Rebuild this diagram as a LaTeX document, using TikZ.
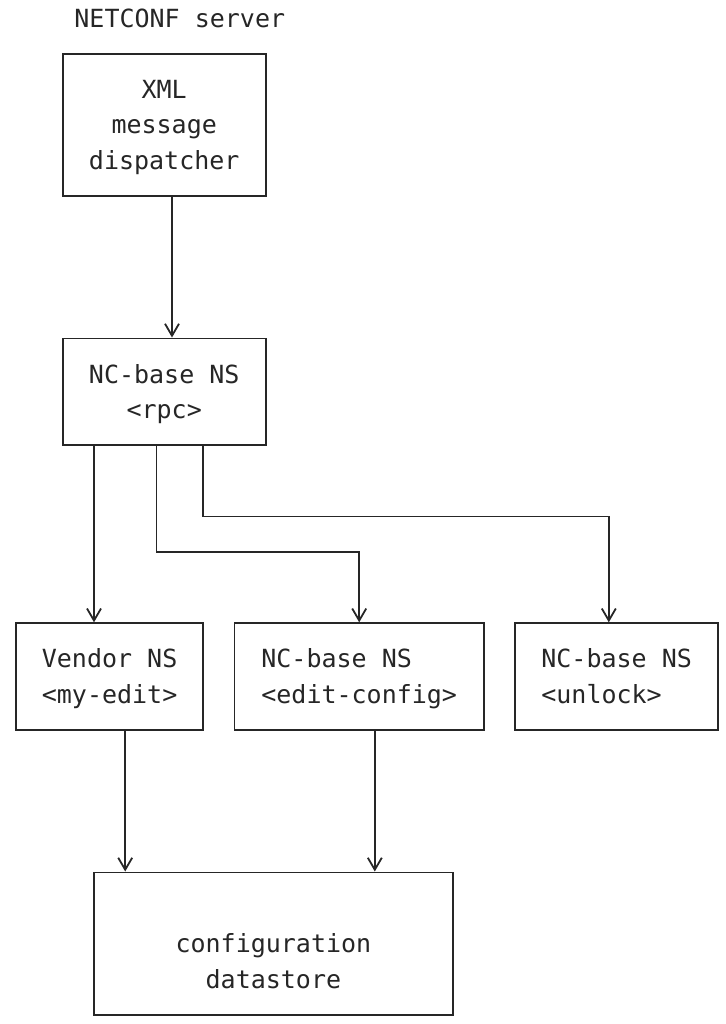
\documentclass[tikz,border=0pt]{standalone}
\usepackage{fontspec}
\usepackage{xcolor}
\usepackage{tikz}
\usetikzlibrary{arrows.meta}
\setmonofont{DejaVu Sans Mono}
\definecolor{ink}{HTML}{262626}
\newcommand{\asciifont}{\ttfamily\fontsize{25}{35.6}\selectfont}
\newcommand{\rs}{\rule[-8.7pt]{0pt}{35.6pt}}

\begin{document}
\begin{tikzpicture}[x=15.6pt,y=-35.6pt,
	blk/.style={draw=ink,line width=1.8pt,text=ink,font=\asciifont,inner sep=0pt,align=center},
	lbl/.style={text=ink,font=\asciifont,inner sep=0pt},
	arr/.style={draw=ink,line width=1.8pt,-{Straight Barb[length=12pt,width=14pt]}}]
	\useasboundingbox (-1.026,-0.506) rectangle (45.449,28.258);
	% boxes, on the character grid of the figure
	\node[lbl] (title) at (10.5,0) {NETCONF server};
	\node[blk,minimum width=202.8pt,minimum height=142.4pt] (dispatcher) at (9.5,3) {\rs XML\\message\\dispatcher\rs};
	\node[blk,minimum width=202.8pt,minimum height=106.8pt] (rpc) at (9.5,10.5) {\rs NC-base NS\\<rpc>\rs};
	\node[blk,minimum width=187.2pt,minimum height=106.8pt] (vendor) at (6,18.5) {\rs Vendor NS\\<my-edit>\rs};
	\node[blk,align=left,minimum width=249.6pt,minimum height=106.8pt] (edit) at (22,18.5) {\rs NC-base NS\\<edit-config>\rs};
	\node[blk,align=left,minimum width=202.8pt,minimum height=106.8pt] (unlock) at (38.5,18.5) {\rs NC-base NS\\<unlock>\rs};
	\node[blk,minimum width=358.8pt,minimum height=142.4pt] (store) at (16.5,26) {\rs\\configuration\\datastore\rs};
	% columns and bends of the connectors
	\coordinate (dispcol) at (10,0);
	\coordinate (vendorcol) at (5,0);
	\coordinate (editcol) at (9,0);
	\coordinate (unlockcol) at (12,0);
	\coordinate (editbend) at (22,15);
	\coordinate (unlockbend) at (38,14);
	\coordinate (mycol) at (7,0);
	\coordinate (ecfgcol) at (23,0);
	\draw[arr] (dispatcher.south -| dispcol) -- (rpc.north -| dispcol);
	\draw[arr] (rpc.south -| vendorcol) -- (vendor.north -| vendorcol);
	\draw[arr] (rpc.south -| editcol) |- (editbend) -- (edit.north -| editbend);
	\draw[arr] (rpc.south -| unlockcol) |- (unlockbend) -- (unlock.north -| unlockbend);
	\draw[arr] (vendor.south -| mycol) -- (store.north -| mycol);
	\draw[arr] (edit.south -| ecfgcol) -- (store.north -| ecfgcol);
\end{tikzpicture}
\end{document}
